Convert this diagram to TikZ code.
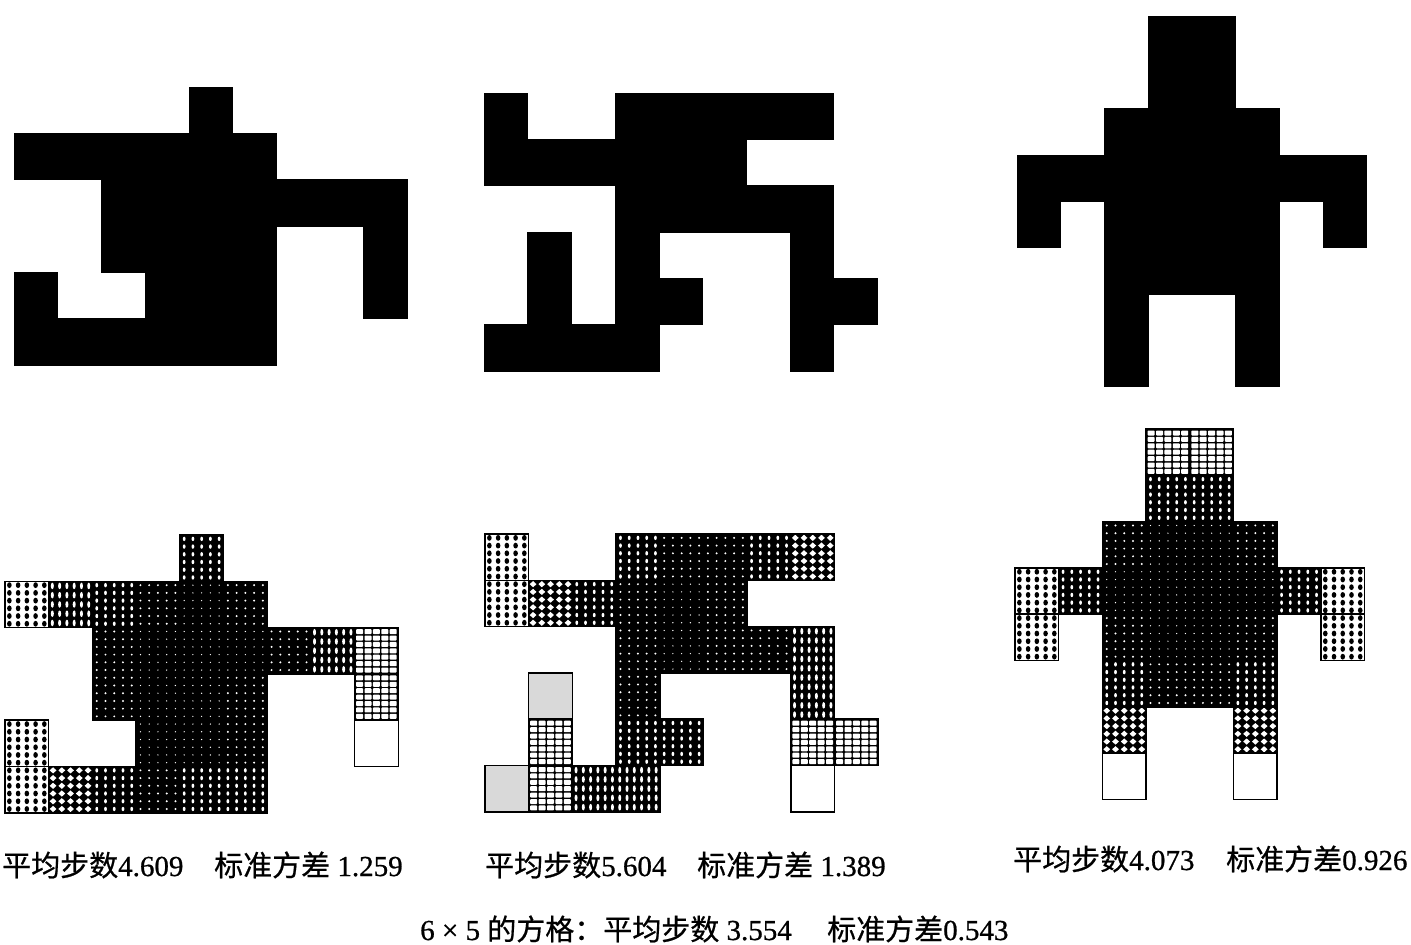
\documentclass[tikz,border=0pt]{standalone}
\usepackage{fontspec}
\setmainfont{Liberation Serif}[FakeBold=0.8]
\newfontfamily\cjk{Noto Sans CJK SC}[FakeBold=0.6]
\def\cw{43.7}
\def\ch{46.3}
\tikzset{
  cellframe/.style={draw=black, line width=1.5pt},
  solidcell/.style={fill=black, draw=black, line width=0.6pt},
  captext/.style={anchor=base west, inner sep=0pt, font=\fontsize{29}{34}\selectfont},
}
% cell textures, drawn with origin at the cell's top-left corner
\expandafter\def\csname pat0\endcsname{%
  \draw[cellframe, fill=white] (0,0) rectangle (\cw,\ch);}
\expandafter\def\csname pat1\endcsname{%
  \draw[cellframe, fill=black!15] (0,0) rectangle (\cw,\ch);}
\expandafter\def\csname pat2\endcsname{%
  \fill[black] (0,0) rectangle (\cw,\ch);
  \foreach \i in {0,...,4}{\foreach \j in {0,...,6}{%
    \fill[white, rounded corners=0.8pt] ({1.5+\i*8.4},{1.5+\j*6.4}) rectangle ++(7.0,5.0);}}
  \draw[cellframe] (0,0) rectangle (\cw,\ch);}
\expandafter\def\csname pat3\endcsname{%
  \fill[white] (0,0) rectangle (\cw,\ch);
  \foreach \i in {0,...,4}{\foreach \j in {0,...,5}{%
    \fill[black] ({4.37+\i*8.74},{3.86+\j*7.72}) ellipse (2.3pt and 2.9pt);}}
  \draw[cellframe] (0,0) rectangle (\cw,\ch);}
\expandafter\def\csname pat4\endcsname{%
  \fill[black] (0,0) rectangle (\cw,\ch);
  \foreach \i in {0,...,4}{\foreach \j in {0,...,5}{%
    \fill[white] ({4.37+\i*8.74-3.4},{3.86+\j*7.72}) -- ++(3.4,-3.1) -- ++(3.4,3.1) -- ++(-3.4,3.1) -- cycle;}}
  \draw[cellframe] (0,0) rectangle (\cw,\ch);}
\expandafter\def\csname pat5\endcsname{%
  \fill[black] (0,0) rectangle (\cw,\ch);
  \foreach \i in {0,...,5}{\foreach \j in {0,...,4}{%
    \fill[white] ({3.64+\i*7.28},{4.63+\j*9.26}) ellipse (1.5pt and 3.3pt);}}
  \draw[cellframe] (0,0) rectangle (\cw,\ch);}
\expandafter\def\csname pat6\endcsname{%
  \fill[black] (0,0) rectangle (\cw,\ch);
  \foreach \i in {0,...,4}{\foreach \j in {0,...,5}{%
    \fill[white] ({4.37+\i*8.74},{3.86+\j*7.72}) ellipse (1.4pt and 2.2pt);}}
  \draw[cellframe] (0,0) rectangle (\cw,\ch);}
\expandafter\def\csname pat7\endcsname{%
  \fill[black] (0,0) rectangle (\cw,\ch);
  \foreach \i in {0,...,4}{\foreach \j in {0,...,5}{%
    \fill[white] ({4.37+\i*8.74},{3.86+\j*7.72}) circle (1.1pt);}}
  \draw[cellframe] (0,0) rectangle (\cw,\ch);}
\expandafter\def\csname pat8\endcsname{%
  \fill[black] (0,0) rectangle (\cw,\ch);
  \foreach \i in {0,...,4}{\foreach \j in {0,...,5}{%
    \fill[white] ({4.37+\i*8.74},{3.86+\j*7.72}) circle (0.7pt);}}
  \draw[cellframe] (0,0) rectangle (\cw,\ch);}
\newcommand\cellpat[1]{\csname pat#1\endcsname}
\begin{document}
\begin{tikzpicture}[x=1pt, y=-1pt]
\useasboundingbox (0,0) rectangle (1411,945);
\fill[white] (0,0) rectangle (1411,945);

% ---------- top row: solid shapes ----------
\foreach \c/\r in {4/0, 0/1,1/1,2/1,3/1,4/1,5/1, 2/2,3/2,4/2,5/2,6/2,7/2,8/2,
  2/3,3/3,4/3,5/3,8/3, 0/4,3/4,4/4,5/4,8/4, 0/5,1/5,2/5,3/5,4/5,5/5}
  {\path[solidcell] ({14+\c*\cw},{87+\r*\ch}) rectangle ++(\cw,\ch);}
\foreach \c/\r in {0/0,3/0,4/0,5/0,6/0,7/0, 0/1,1/1,2/1,3/1,4/1,5/1, 3/2,4/2,5/2,6/2,7/2,
  1/3,3/3,7/3, 1/4,3/4,4/4,7/4,8/4, 0/5,1/5,2/5,3/5,7/5}
  {\path[solidcell] ({484+\c*\cw},{93+\r*\ch}) rectangle ++(\cw,\ch);}
\foreach \c/\r in {3/0,4/0, 3/1,4/1, 2/2,3/2,4/2,5/2, 0/3,1/3,2/3,3/3,4/3,5/3,6/3,7/3,
  0/4,2/4,3/4,4/4,5/4,7/4, 2/5,3/5,4/5,5/5, 2/6,5/6, 2/7,5/7}
  {\path[solidcell] ({1017+\c*\cw},{16+\r*\ch}) rectangle ++(\cw,\ch);}

% ---------- bottom row: shaded shapes ----------
\foreach \c/\r/\l in {4/0/6,
  0/1/3, 1/1/5, 2/1/6, 3/1/7, 4/1/8, 5/1/7,
  2/2/7, 3/2/8, 4/2/8, 5/2/8, 6/2/7, 7/2/5, 8/2/2,
  2/3/7, 3/3/8, 4/3/8, 5/3/7, 8/3/2,
  0/4/3, 3/4/8, 4/4/8, 5/4/7, 8/4/0,
  0/5/3, 1/5/4, 2/5/6, 3/5/7, 4/5/6, 5/5/6}
  {\begin{scope}[shift={({5+\c*\cw},{535+\r*\ch})}]\cellpat{\l}\end{scope}}
\foreach \c/\r/\l in {0/0/3, 3/0/6, 4/0/7, 5/0/7, 6/0/6, 7/0/4,
  0/1/3, 1/1/4, 2/1/6, 3/1/7, 4/1/8, 5/1/7,
  3/2/7, 4/2/8, 5/2/7, 6/2/7, 7/2/5,
  1/3/1, 3/3/7, 7/3/5,
  1/4/2, 3/4/6, 4/4/6, 7/4/2, 8/4/2,
  0/5/1, 1/5/2, 2/5/5, 3/5/5, 7/5/0}
  {\begin{scope}[shift={({485+\c*\cw},{534+\r*\ch})}]\cellpat{\l}\end{scope}}
\foreach \c/\r/\l in {3/0/2, 4/0/2,
  3/1/6, 4/1/6,
  2/2/7, 3/2/8, 4/2/8, 5/2/7,
  0/3/3, 1/3/6, 2/3/8, 3/3/8, 4/3/8, 5/3/8, 6/3/6, 7/3/3,
  0/4/3, 2/4/7, 3/4/8, 4/4/8, 5/4/7, 7/4/3,
  2/5/6, 3/5/7, 4/5/7, 5/5/6,
  2/6/4, 5/6/4,
  2/7/0, 5/7/0}
  {\begin{scope}[shift={({1015+\c*\cw},{429+\r*\ch})}]\cellpat{\l}\end{scope}}

% ---------- captions ----------
\node[captext] (m1) at (2,876) {{\cjk 平均步数}4.609};
\node[captext] (s1) at (214,876) {{\cjk 标准方差} 1.259};
\node[captext] (m2) at (485,876) {{\cjk 平均步数}5.604};
\node[captext] (s2) at (697,876) {{\cjk 标准方差} 1.389};
\node[captext] (m3) at (1013,870) {{\cjk 平均步数}4.073};
\node[captext] (s3) at (1226,870) {{\cjk 标准方差}0.926};
\node[captext] (tm) at (420,940) {6 {\texttimes} 5 {\cjk 的方格：平均步数} 3.554};
\node[captext] (ts) at (827,940) {{\cjk 标准方差}0.543};
\end{tikzpicture}
\end{document}
